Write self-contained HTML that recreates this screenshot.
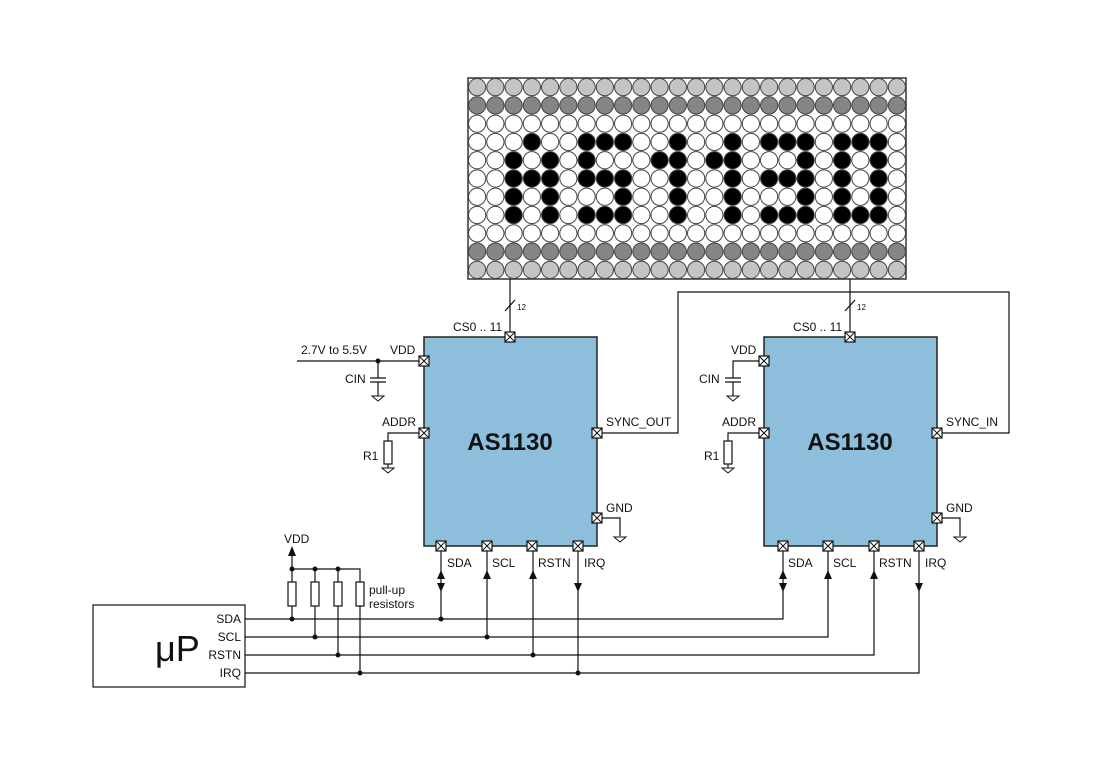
<!DOCTYPE html>
<html><head><meta charset="utf-8"><style>
body{margin:0;background:#fff}
svg{display:block}
text{font-family:"Liberation Sans",sans-serif;font-size:12px;fill:#111}
</style></head><body>
<svg id="s" width="1100" height="778" viewBox="0 0 1100 778" xmlns="http://www.w3.org/2000/svg">
<defs>
<g id="pin"><rect x="-5" y="-5" width="10" height="10" fill="#fff" stroke="#111" stroke-width="1.2"/><path d="M-5,-5L5,5M5,-5L-5,5" stroke="#111" stroke-width="1"/></g>
<g id="gnd"><path d="M-6,0H6L0,5Z" fill="#fff" stroke="#111" stroke-width="1"/></g>
</defs>
<rect x="468" y="78" width="438" height="201" fill="#fff" stroke="#333" stroke-width="1.5"/>
<g id="mx"></g>
<rect x="93" y="605" width="152" height="82" fill="#fff" stroke="#111" stroke-width="1.2"/>
<g stroke="#111" stroke-width="1.2" fill="none">
<path d="M510,279V332M850,279V332"/>
<path d="M505,311L515,300M845,311L855,300"/>
<path d="M602,433H678V292H1009V433H942"/>
<path d="M297,361H419M378,361V378M370,378H386M370,382H386M378,382V396"/>
<path d="M419,433H388V441M388,464V468"/>
<path d="M759,361H733V378M725,378H741M725,382H741M733,382V396"/>
<path d="M759,433H728V441M728,464V468"/>
<path d="M602,518H620V536M942,518H960V536"/>
<path d="M245,619H783V551M245,637H828V551M245,655H874V551M245,673H919V551"/>
<path d="M441,551V619M487,551V637M533,551V655M578,551V673"/>
<path d="M292,552V582M292,569H360V582M315,569V582M338,569V582"/>
<path d="M292,606V619M315,606V637M338,606V655M360,606V673"/>
</g>
<g fill="#fff" stroke="#111" stroke-width="1.2">
<rect x="384" y="441" width="8" height="23"/><rect x="724" y="441" width="8" height="23"/>
<rect x="288" y="582" width="8" height="24"/><rect x="311" y="582" width="8" height="24"/><rect x="334" y="582" width="8" height="24"/><rect x="356" y="582" width="8" height="24"/>
</g>
<g fill="#111">
<path d="M292,546L288,556H296Z"/>
<path d="M441,570L437,579H445Z M441,592L437,583H445Z M783,570L779,579H787Z M783,592L779,583H787Z"/>
<path d="M487,570L483,579H491Z M533,570L529,579H537Z M828,570L824,579H832Z M874,570L870,579H878Z"/>
<path d="M578,592L574,583H582Z M919,592L915,583H923Z"/>
<circle cx="378" cy="361" r="2.5"/>
<circle cx="292" cy="569" r="2.5"/><circle cx="315" cy="569" r="2.5"/><circle cx="338" cy="569" r="2.5"/>
<circle cx="292" cy="619" r="2.5"/><circle cx="315" cy="637" r="2.5"/><circle cx="338" cy="655" r="2.5"/><circle cx="360" cy="673" r="2.5"/>
<circle cx="441" cy="619" r="2.5"/><circle cx="487" cy="637" r="2.5"/><circle cx="533" cy="655" r="2.5"/><circle cx="578" cy="673" r="2.5"/>
</g>
<use href="#gnd" x="378" y="396"/><use href="#gnd" x="388" y="468"/><use href="#gnd" x="733" y="396"/><use href="#gnd" x="728" y="468"/>
<use href="#gnd" x="620" y="537"/><use href="#gnd" x="960" y="537"/>
<rect x="424" y="337" width="173" height="209" fill="#8dbfdc" stroke="#222" stroke-width="1.5"/>
<rect x="764" y="337" width="173" height="209" fill="#8dbfdc" stroke="#222" stroke-width="1.5"/>
<g>
<use href="#pin" x="510" y="337"/><use href="#pin" x="424" y="361"/><use href="#pin" x="424" y="433"/><use href="#pin" x="597" y="433"/><use href="#pin" x="597" y="518"/>
<use href="#pin" x="441" y="546"/><use href="#pin" x="487" y="546"/><use href="#pin" x="532" y="546"/><use href="#pin" x="578" y="546"/>
<use href="#pin" x="850" y="337"/><use href="#pin" x="764" y="361"/><use href="#pin" x="764" y="433"/><use href="#pin" x="937" y="433"/><use href="#pin" x="937" y="518"/>
<use href="#pin" x="783" y="546"/><use href="#pin" x="828" y="546"/><use href="#pin" x="874" y="546"/><use href="#pin" x="919" y="546"/>
</g>
<text x="510" y="450" text-anchor="middle" style="font-size:24px;font-weight:bold">AS1130</text>
<text x="850" y="450" text-anchor="middle" style="font-size:24px;font-weight:bold">AS1130</text>
<text x="517" y="310" style="font-size:8px">12</text><text x="857" y="310" style="font-size:8px">12</text>
<text x="453" y="331">CS0 .. 11</text><text x="793" y="331">CS0 .. 11</text>
<text x="301" y="354">2.7V to 5.5V</text><text x="390" y="354">VDD</text><text x="345" y="383">CIN</text>
<text x="382" y="426">ADDR</text><text x="363" y="460">R1</text>
<text x="606" y="426">SYNC_OUT</text><text x="606" y="512">GND</text>
<text x="731" y="354">VDD</text><text x="699" y="383">CIN</text>
<text x="722" y="426">ADDR</text><text x="704" y="460">R1</text>
<text x="946" y="426">SYNC_IN</text><text x="946" y="512">GND</text>
<text x="447" y="567">SDA</text><text x="492" y="567">SCL</text><text x="538" y="567">RSTN</text><text x="584" y="567">IRQ</text>
<text x="788" y="567">SDA</text><text x="833" y="567">SCL</text><text x="879" y="567">RSTN</text><text x="925" y="567">IRQ</text>
<text x="284" y="543">VDD</text>
<text x="369" y="594">pull-up</text><text x="369" y="608">resistors</text>
<text x="241" y="623" text-anchor="end">SDA</text><text x="241" y="641" text-anchor="end">SCL</text><text x="241" y="659" text-anchor="end">RSTN</text><text x="241" y="677" text-anchor="end">IRQ</text>
<text x="155" y="661" style="font-size:36px">μP</text>
</svg>
<script>
var on={3:[3,6,7,8,11,14,16,17,18,20,21,22],4:[2,4,6,10,11,13,14,18,20,22],5:[2,3,4,6,7,8,11,14,16,17,18,20,22],6:[2,4,8,11,14,18,20,22],7:[2,4,6,7,8,11,14,16,17,18,20,21,22]};
var g=document.getElementById('mx'),h='';
for(var r=0;r<11;r++)for(var c=0;c<24;c++){
var f='#fff';if(r==0||r==10)f='#c4c4c4';else if(r==1||r==9)f='#858585';else if(on[r]&&on[r].indexOf(c)>=0)f='#000';
h+='<circle cx="'+(468+9.125+c*18.25)+'" cy="'+(78+9.14+r*18.27)+'" r="8.6" fill="'+f+'" stroke="#444" stroke-width="1"/>';}
g.innerHTML=h;
</script>
</body></html>
